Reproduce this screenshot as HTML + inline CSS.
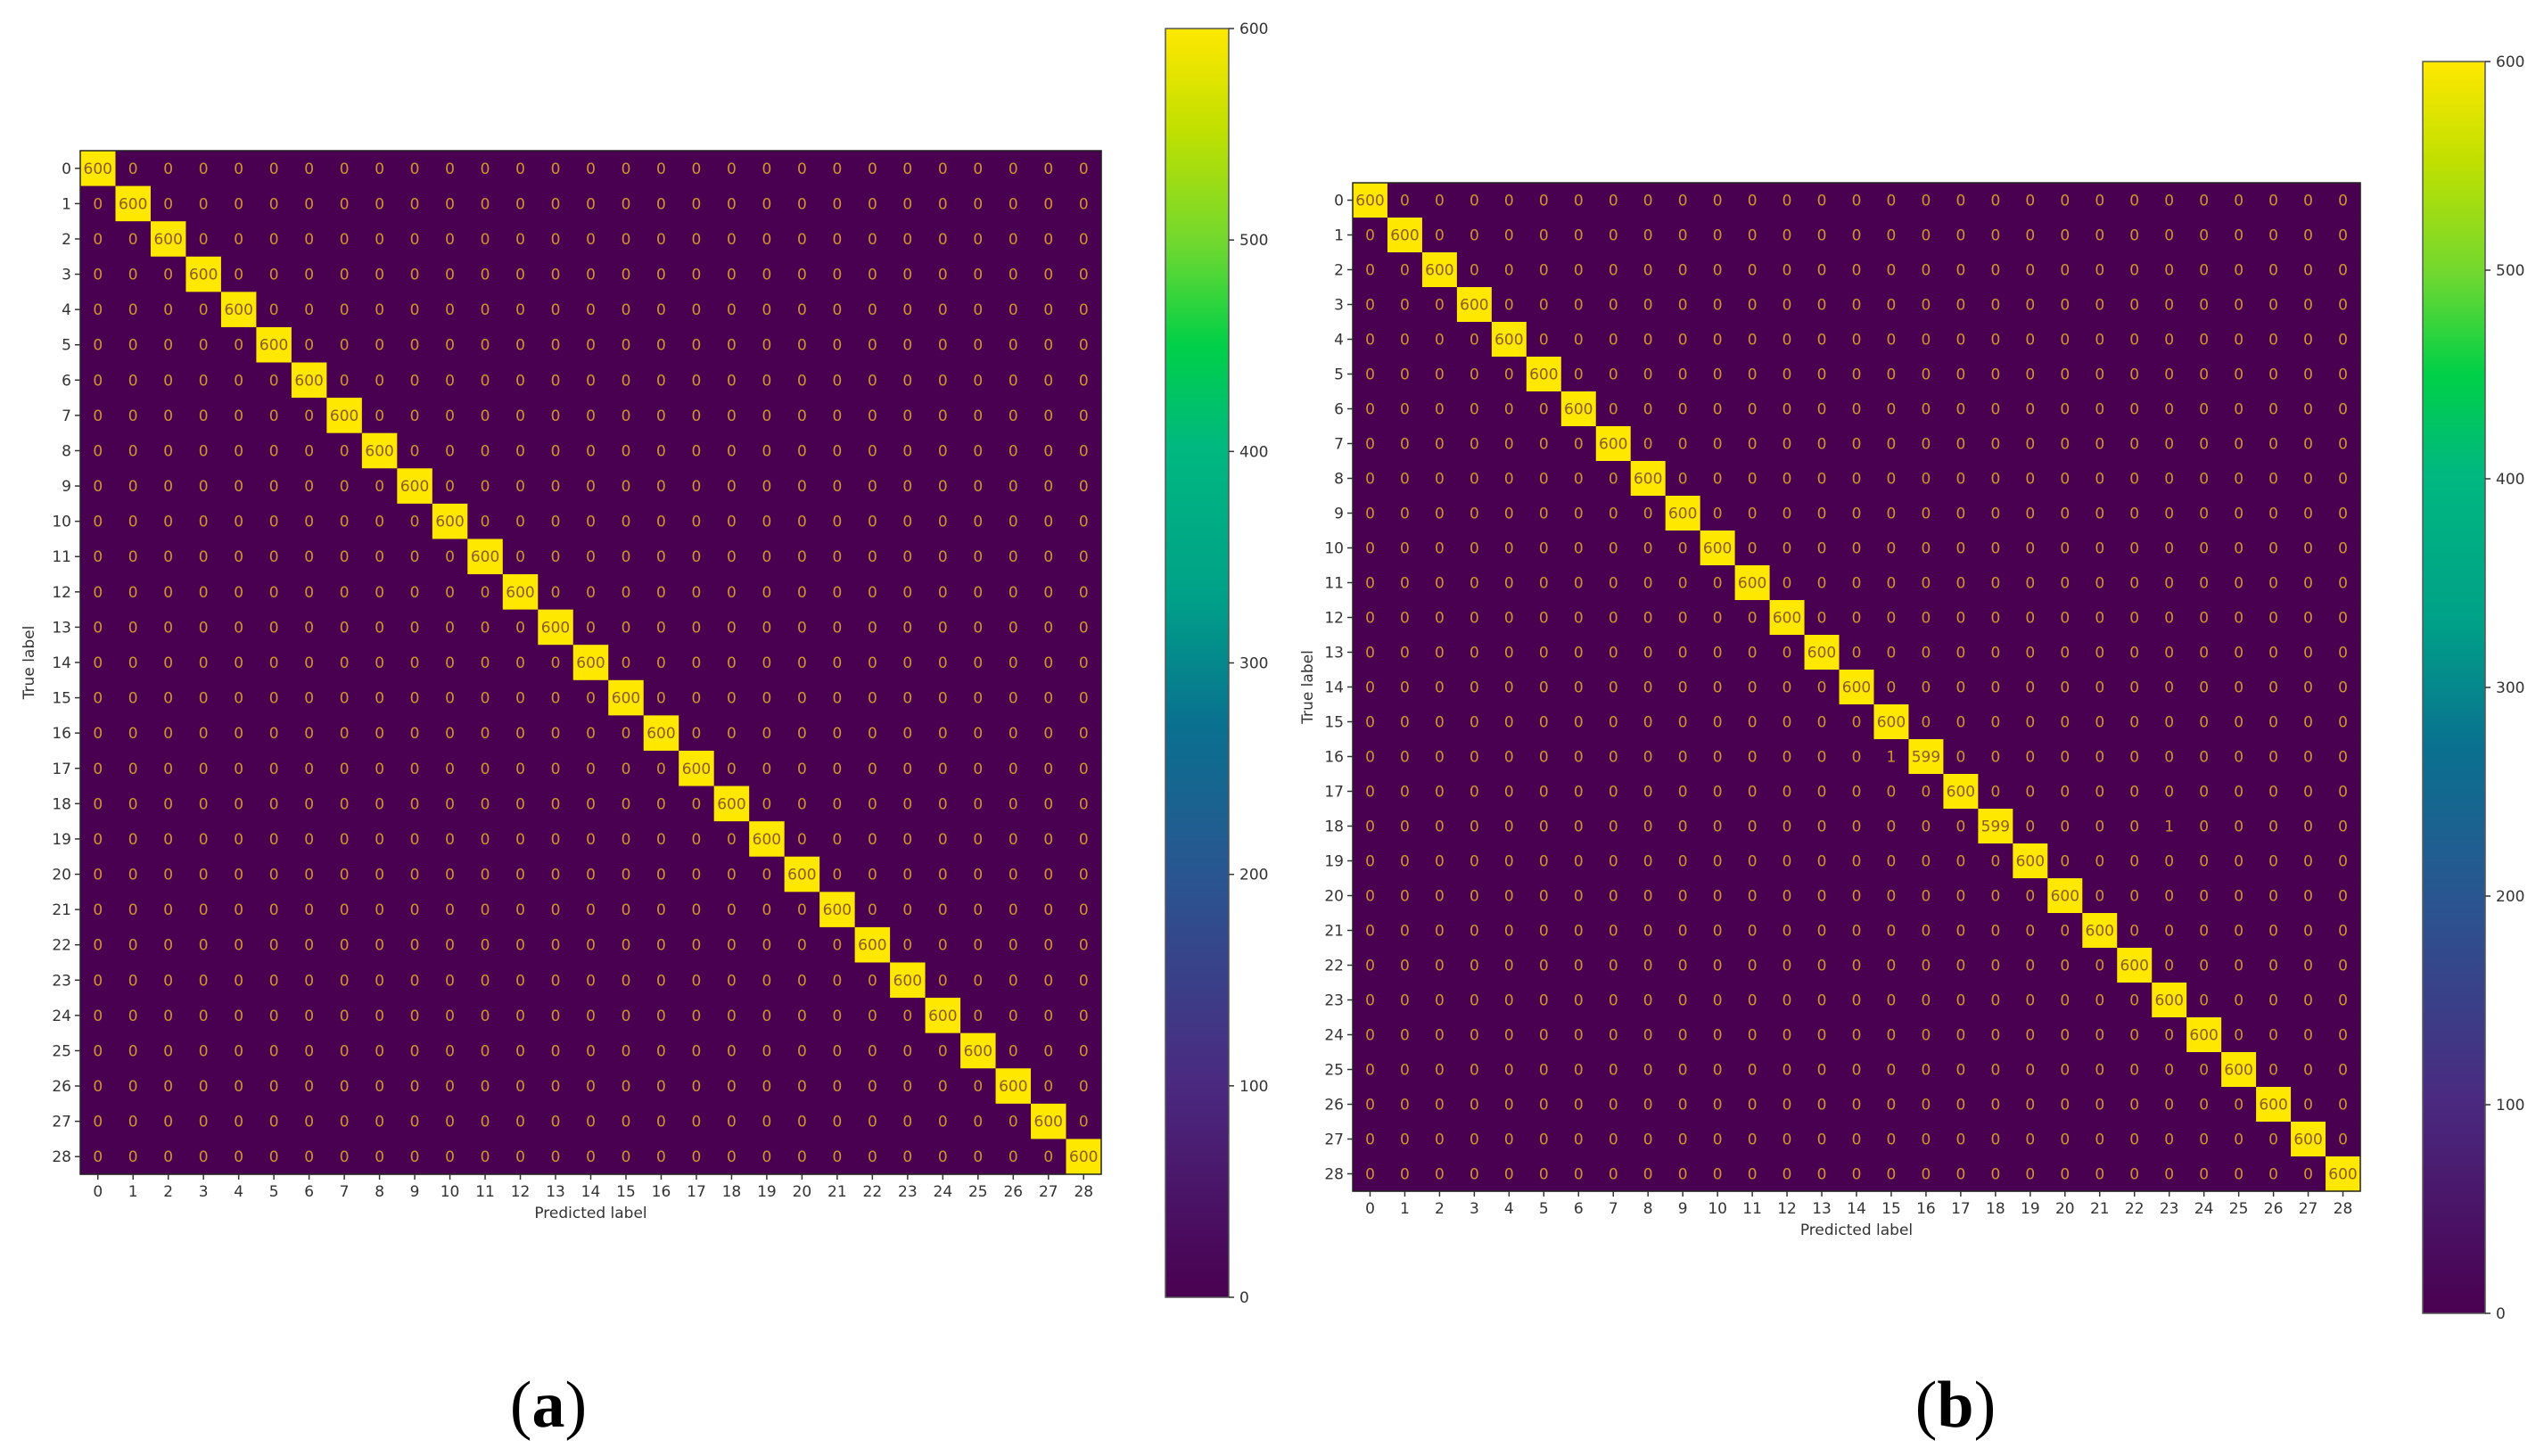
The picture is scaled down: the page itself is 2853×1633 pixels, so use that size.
<!DOCTYPE html>
<html><head><meta charset="utf-8">
<style>
html,body{margin:0;padding:0;background:#fff;}
svg{display:block;font-family:"DejaVu Sans","Liberation Sans",sans-serif;}
</style></head>
<body>
<svg id="fig" width="2853" height="1633" viewBox="0 0 2853 1633" xmlns="http://www.w3.org/2000/svg">
<defs>
<linearGradient id="vir" x1="0" y1="1" x2="0" y2="0">
<stop offset="0" stop-color="#4a0050"/><stop offset="0.17" stop-color="#4a2a80"/><stop offset="0.33" stop-color="#2a5590"/><stop offset="0.45" stop-color="#0a7090"/><stop offset="0.55" stop-color="#00a088"/><stop offset="0.67" stop-color="#00b880"/><stop offset="0.75" stop-color="#00d048"/><stop offset="0.83" stop-color="#70d830"/><stop offset="0.92" stop-color="#c0e000"/><stop offset="1" stop-color="#ffe800"/>
</linearGradient>
</defs>
</svg>
<script>
// ---- data ----
const classLabels = [0,1,2,3,4,5,6,7,8,9,10,11,12,13,14,15,16,17,18,19,20,21,22,23,24,25,26,27,28];
const diagA = [600,600,600,600,600,600,600,600,600,600,600,600,600,600,600,600,600,600,600,600,600,600,600,600,600,600,600,600,600];
const diagB = [600,600,600,600,600,600,600,600,600,600,600,600,600,600,600,600,599,600,599,600,600,600,600,600,600,600,600,600,600];
const offRowsB = [16,18];
const offColsB = [15,23];
const offValsB = [1,1];
const cbarTicks = [0,100,200,300,400,500,600];
const vmin = 0, vmax = 600;

const NS = "http://www.w3.org/2000/svg";
const svg = document.getElementById('fig');
function el(tag, attrs, parent){const e=document.createElementNS(NS,tag);for(const k in attrs)e.setAttribute(k,attrs[k]);(parent||svg).appendChild(e);return e;}

const stops=[[0,[74,0,80]],[0.17,[74,42,128]],[0.33,[42,85,144]],[0.45,[10,112,144]],[0.55,[0,160,136]],[0.67,[0,184,128]],[0.75,[0,208,72]],[0.83,[112,216,48]],[0.92,[192,224,0]],[1,[255,232,0]]];
function cmap(v){const t=Math.max(0,Math.min(1,(v-vmin)/(vmax-vmin)));for(let i=1;i<stops.length;i++){if(t<=stops[i][0]){const a=stops[i-1],b=stops[i];const f=(t-a[0])/(b[0]-a[0]);const c=a[1].map((x,j)=>Math.round(x+(b[1][j]-x)*f));return `rgb(${c.join(',')})`;}}return 'rgb(255,232,0)';}

function buildMatrix(diag, rows, cols, vals){const n=classLabels.length;const m=[];for(let i=0;i<n;i++){m.push(new Array(n).fill(0));m[i][i]=diag[i];}for(let k=0;k<rows.length;k++)m[rows[k]][cols[k]]=vals[k];return m;}

function drawPanel(g, M, x0, y0, x1, y1, cb, letter, letterX, ylabX, xlabY){
  const n=classLabels.length;
  const cw=(x1-x0)/n, ch=(y1-y0)/n;
  const xs=i=>x0+i*cw, ys=i=>y0+i*ch;
  for(let r=0;r<n;r++)for(let c=0;c<n;c++){
    const v=M[r][c];
    const cell=el('rect',{x:xs(c),y:ys(r),width:cw+0.6,height:ch+0.6,fill:cmap(v)},g);
    
    
    const t=el('text',{x:xs(c)+cw/2,y:ys(r)+ch/2+6,'text-anchor':'middle','font-size':17,fill:v>300?'#8a5a28':'#d09530'},g);
    t.textContent=v;
    
    
  }
  el('rect',{x:x0,y:y0,width:x1-x0,height:y1-y0,fill:'none',stroke:'#222','stroke-width':1.5},g);
  for(let i=0;i<n;i++){
    el('line',{x1:x0-6,x2:x0,y1:ys(i)+ch/2,y2:ys(i)+ch/2,stroke:'#333','stroke-width':1.5},g);
    const yt=el('text',{x:x0-10,y:ys(i)+ch/2+6,'text-anchor':'end','font-size':17,fill:'#333'},g);
    yt.textContent=classLabels[i];
    
    
    el('line',{x1:xs(i)+cw/2,x2:xs(i)+cw/2,y1:y1,y2:y1+6,stroke:'#333','stroke-width':1.5},g);
    const xt=el('text',{x:xs(i)+cw/2,y:y1+25,'text-anchor':'middle','font-size':17,fill:'#333'},g);
    xt.textContent=classLabels[i];
    
    
  }
  const xl=el('text',{x:(x0+x1)/2,y:xlabY,'text-anchor':'middle','font-size':17,fill:'#333'},g);
  xl.textContent='Predicted label';
  
  
  const yc=(y0+y1)/2;
  const yl=el('text',{x:ylabX,y:yc,'text-anchor':'middle','font-size':17,fill:'#333',transform:`rotate(-90 ${ylabX} ${yc})`},g);
  yl.textContent='True label';
  
  
  // colorbar
  const cbg=el('g',{},g);
  
  
  el('rect',{x:cb.x0,y:cb.y0,width:cb.x1-cb.x0,height:cb.y1-cb.y0,fill:'url(#vir)',stroke:'#555','stroke-width':1.5},cbg);
  const cy=v=>cb.y1-(v-vmin)/(vmax-vmin)*(cb.y1-cb.y0);
  cbarTicks.forEach(v=>{
    el('line',{x1:cb.x1,x2:cb.x1+6,y1:cy(v),y2:cy(v),stroke:'#333','stroke-width':1.5},cbg);
    const tt=el('text',{x:cb.x1+12,y:cy(v)+6,'font-size':17,fill:'#333'},cbg);
    tt.textContent=v;
    
    
  });
  const lt=el('text',{x:letterX,y:1600,'text-anchor':'middle','font-size':74,'font-family':'"Liberation Serif",serif',fill:'#000'},g);
  lt.innerHTML='(<tspan font-weight="bold">'+letter+'</tspan>)';
  
  
}

const gA=el('g',{});


drawPanel(gA, buildMatrix(diagA,[],[],[]), 90,169,1235,1317, {x0:1307,x1:1378,y0:32,y1:1455}, 'a', 615, 38, 1366);

const gB=el('g',{});


drawPanel(gB, buildMatrix(diagB,offRowsB,offColsB,offValsB), 1517,205,2647,1336, {x0:2717,x1:2787,y0:69,y1:1473}, 'b', 2193, 1472, 1385);
</script>
</body></html>
